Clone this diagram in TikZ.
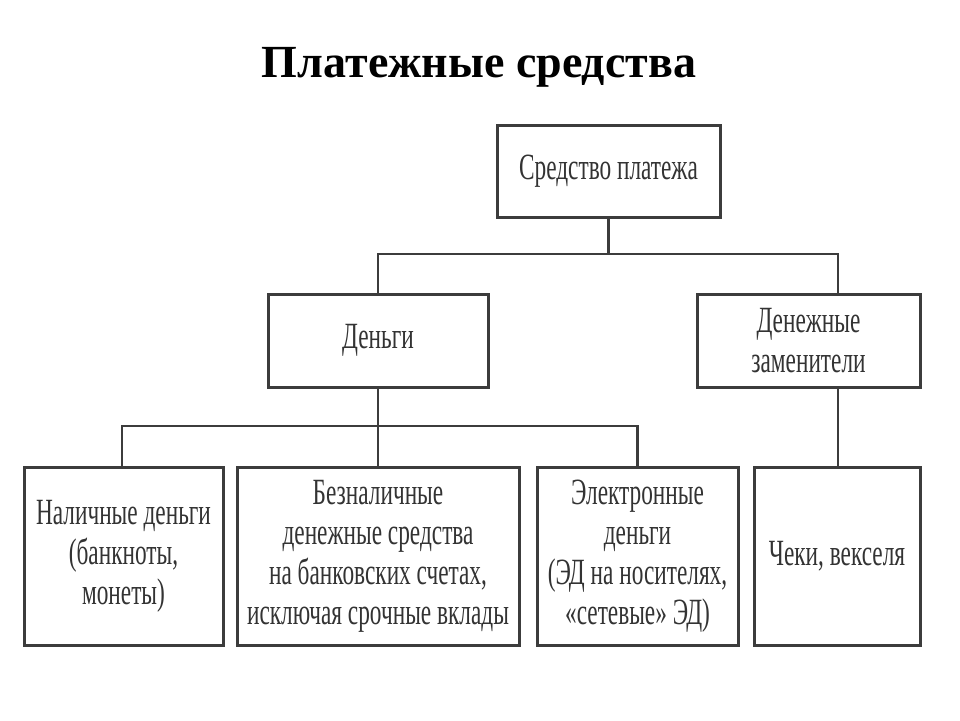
\documentclass[tikz,border=0pt]{standalone}
\usepackage{fontspec}
\setmainfont{Liberation Serif}
\newfontfamily\narrowfont[FakeStretch=0.63]{Liberation Serif}
\definecolor{inkgray}{HTML}{333333}
\definecolor{linegray}{HTML}{3C3C3C}

\begin{document}
\begin{tikzpicture}[
    x=1pt, y=-1pt,
    every node/.style={inner sep=0pt},
    box/.style={draw=linegray, line width=3pt, fill=white, align=center,
      text=inkgray, font=\narrowfont\fontsize{37}{40}\selectfont},
    link/.style={draw=linegray, line width=2.5pt}
  ]
  \useasboundingbox (0,0) rectangle (960,720);

  % Title
  \node[font=\bfseries\fontsize{46}{52}\selectfont] (title) at (479,67) {Платежные средства};

  % Top level
  \node[box, minimum width=223, minimum height=92] (root) at (608.5,171) {Средство платежа};

  % Second level
  \node[box, minimum width=220, minimum height=93] (money) at (378,340.5) {Деньги};
  \node[box, minimum width=223, minimum height=93] (subst) at (808.5,340.5) {Денежные\\заменители};

  % Third level
  \node[box, minimum width=199, minimum height=178] (cash) at (123.5,556) {Наличные деньги\\(банкноты,\\монеты)};
  \node[box, minimum width=282, minimum height=178] (noncash) at (378,556) {Безналичные\\денежные средства\\на банковских счетах,\\исключая срочные вклады};
  \node[box, minimum width=201, minimum height=178] (emoney) at (637.5,556) {Электронные\\деньги\\(ЭД на носителях,\\«сетевые» ЭД)};
  \node[box, minimum width=166, minimum height=178] (cheques) at (837,556) {Чеки, векселя};

  % Connectors
  \coordinate (bus1) at (608.5,254);
  \coordinate (bus2) at (378,426);
  \draw[link] (root.south) -- (bus1);
  \draw[link] (money.north) |- (bus1) -| (838,294);
  \draw[link] (money.south) -- (bus2);
  \draw[link] (cash.north -| 122,0) |- (bus2) -| (emoney.north);
  \draw[link] (bus2) -- (noncash.north);
  \draw[link] (838,387) -- (838,467);
\end{tikzpicture}
\end{document}
